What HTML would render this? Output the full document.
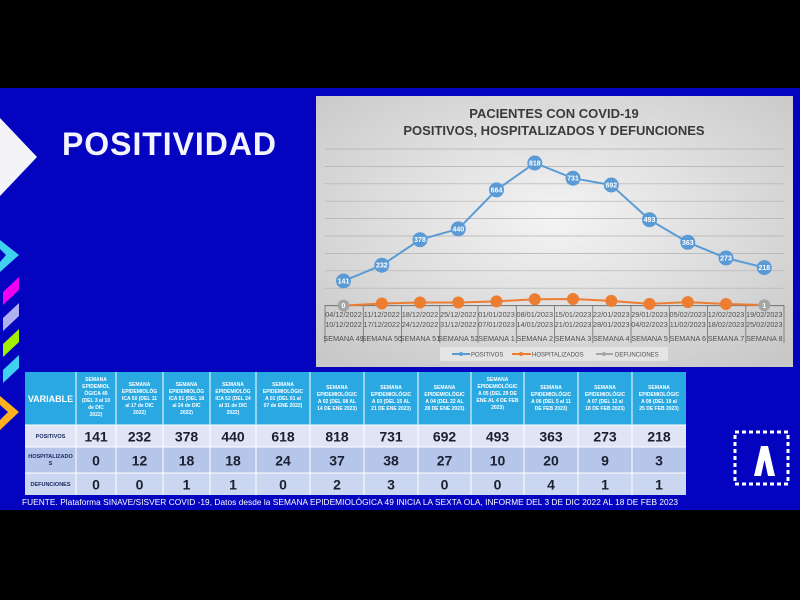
<!DOCTYPE html>
<html><head><meta charset="utf-8"><style>
html,body{margin:0;padding:0;background:#000;}
svg{display:block;font-family:"Liberation Sans",sans-serif;}
</style></head><body>
<svg width="800" height="600" viewBox="0 0 800 600" xmlns="http://www.w3.org/2000/svg">
<defs>
<radialGradient id="bg" cx="50%" cy="45%" r="70%">
<stop offset="0" stop-color="#f4f4f4"/><stop offset="1" stop-color="#c8c8c8"/>
</radialGradient>
</defs>
<rect x="0" y="0" width="800" height="600" fill="#000"/>
<rect x="0" y="88" width="800" height="422" fill="#0404c0"/>
<polygon points="0,118 37,157 0,196" fill="#f4f4f8"/>
<polygon points="0,240 19,255 0,272 0,262 6,255 0,249" fill="#40d0f0"/>
<polygon points="3,292 19,277 19,290 3,305" fill="#f000f0"/>
<polygon points="3,318 19,303 19,316 3,331" fill="#b0b0f0"/>
<polygon points="3,344 19,329 19,342 3,357" fill="#a0f000"/>
<polygon points="3,370 19,355 19,368 3,383" fill="#40d0f0"/>
<polygon points="0,396 19,412 0,430 0,420 8,412 0,405" fill="#ffb020"/>
<text x="62" y="155" font-size="32" font-weight="bold" fill="#f4f4ff" textLength="214">POSITIVIDAD</text>
<rect x="316" y="96" width="477" height="271" fill="url(#bg)"/>
<text x="554" y="118" font-size="13" font-weight="bold" fill="#3a3a3a" text-anchor="middle">PACIENTES CON COVID-19</text>
<text x="554" y="135" font-size="13" font-weight="bold" fill="#3a3a3a" text-anchor="middle">POSITIVOS, HOSPITALIZADOS Y DEFUNCIONES</text>
<g stroke="#b0b0b0" stroke-width="0.7">
<line x1="325" x2="784" y1="149" y2="149"/><line x1="325" x2="784" y1="166.4" y2="166.4"/>
<line x1="325" x2="784" y1="183.8" y2="183.8"/><line x1="325" x2="784" y1="201.2" y2="201.2"/>
<line x1="325" x2="784" y1="218.6" y2="218.6"/><line x1="325" x2="784" y1="236" y2="236"/>
<line x1="325" x2="784" y1="253.4" y2="253.4"/><line x1="325" x2="784" y1="270.8" y2="270.8"/>
<line x1="325" x2="784" y1="288.2" y2="288.2"/>
</g>
<line x1="325" x2="784" y1="305.6" y2="305.6" stroke="#707070" stroke-width="1"/>
<g stroke="#707070" stroke-width="0.8">
<line x1="325" x2="325" y1="305" y2="343"/><line x1="363.3" x2="363.3" y1="305" y2="343"/>
<line x1="401.5" x2="401.5" y1="305" y2="343"/><line x1="439.8" x2="439.8" y1="305" y2="343"/>
<line x1="478" x2="478" y1="305" y2="343"/><line x1="516.3" x2="516.3" y1="305" y2="343"/>
<line x1="554.5" x2="554.5" y1="305" y2="343"/><line x1="592.8" x2="592.8" y1="305" y2="343"/>
<line x1="631" x2="631" y1="305" y2="343"/><line x1="669.3" x2="669.3" y1="305" y2="343"/>
<line x1="707.5" x2="707.5" y1="305" y2="343"/><line x1="745.8" x2="745.8" y1="305" y2="343"/>
<line x1="784" x2="784" y1="305" y2="343"/>
</g>
<g font-size="7.3" fill="#505050" text-anchor="middle">
<text x="343.5" y="317">04/12/2022</text><text x="343.5" y="327">10/12/2022</text><text x="343.5" y="341">SEMANA 49</text>
<text x="381.8" y="317">11/12/2022</text><text x="381.8" y="327">17/12/2022</text><text x="381.8" y="341">SEMANA 50</text>
<text x="420" y="317">18/12/2022</text><text x="420" y="327">24/12/2022</text><text x="420" y="341">SEMANA 51</text>
<text x="458.3" y="317">25/12/2022</text><text x="458.3" y="327">31/12/2022</text><text x="458.3" y="341">SEMANA 52</text>
<text x="496.5" y="317">01/01/2023</text><text x="496.5" y="327">07/01/2023</text><text x="496.5" y="341">SEMANA 1</text>
<text x="534.8" y="317">08/01/2023</text><text x="534.8" y="327">14/01/2023</text><text x="534.8" y="341">SEMANA 2</text>
<text x="573" y="317">15/01/2023</text><text x="573" y="327">21/01/2023</text><text x="573" y="341">SEMANA 3</text>
<text x="611.3" y="317">22/01/2023</text><text x="611.3" y="327">28/01/2023</text><text x="611.3" y="341">SEMANA 4</text>
<text x="649.5" y="317">29/01/2023</text><text x="649.5" y="327">04/02/2023</text><text x="649.5" y="341">SEMANA 5</text>
<text x="687.8" y="317">05/02/2023</text><text x="687.8" y="327">11/02/2023</text><text x="687.8" y="341">SEMANA 6</text>
<text x="726" y="317">12/02/2023</text><text x="726" y="327">18/02/2023</text><text x="726" y="341">SEMANA 7</text>
<text x="764.3" y="317">19/02/2023</text><text x="764.3" y="327">25/02/2023</text><text x="764.3" y="341">SEMANA 8</text>
</g>
<polyline fill="none" stroke="#ed7d31" stroke-width="2" points="343.5,305.6 381.8,303.5 420,302.5 458.3,302.5 496.5,301.4 534.8,299.2 573,299 611.3,300.9 649.5,303.9 687.8,302.1 726,304 764.3,305.1"/>
<g fill="#ed7d31">
<circle cx="381.8" cy="303.5" r="6"/><circle cx="420" cy="302.5" r="6"/><circle cx="458.3" cy="302.5" r="6"/><circle cx="496.5" cy="301.4" r="6"/><circle cx="534.8" cy="299.2" r="6"/><circle cx="573" cy="299" r="6"/><circle cx="611.3" cy="300.9" r="6"/><circle cx="649.5" cy="303.9" r="6"/><circle cx="687.8" cy="302.1" r="6"/><circle cx="726" cy="304" r="6"/>
</g>
<g fill="#a5a5a5">
<circle cx="343.5" cy="305.6" r="6"/><circle cx="764.3" cy="305.3" r="6"/>
</g>
<polyline fill="none" stroke="#5b9bd5" stroke-width="2" points="343.5,281 381.8,265.2 420,239.7 458.3,228.9 496.5,189.9 534.8,163 573,178.2 611.3,185 649.5,219.7 687.8,242.3 726,258 764.3,267.6"/>
<g fill="#5b9bd5">
<circle cx="343.5" cy="281" r="7.5"/><circle cx="381.8" cy="265.2" r="7.5"/><circle cx="420" cy="239.7" r="7.5"/><circle cx="458.3" cy="228.9" r="7.5"/><circle cx="496.5" cy="189.9" r="7.5"/><circle cx="534.8" cy="163" r="7.5"/><circle cx="573" cy="178.2" r="7.5"/><circle cx="611.3" cy="185" r="7.5"/><circle cx="649.5" cy="219.7" r="7.5"/><circle cx="687.8" cy="242.3" r="7.5"/><circle cx="726" cy="258" r="7.5"/><circle cx="764.3" cy="267.6" r="7.5"/>
</g>
<g font-size="7" fill="#fff" text-anchor="middle" font-weight="bold">
<text x="343.5" y="283.5">141</text><text x="381.8" y="267.7">232</text><text x="420" y="242.2">378</text><text x="458.3" y="231.4">440</text><text x="496.5" y="192.4">664</text><text x="534.8" y="165.5">818</text><text x="573" y="180.7">731</text><text x="611.3" y="187.5">692</text><text x="649.5" y="222.2">493</text><text x="687.8" y="244.8">363</text><text x="726" y="260.5">273</text><text x="764.3" y="270.1">218</text>
<text x="343.5" y="308">0</text><text x="764.3" y="308">1</text>
</g>
<rect x="440" y="347" width="228" height="14" fill="#e4e4e4"/>
<g font-size="6" fill="#505050">
<line x1="452" x2="470" y1="354" y2="354" stroke="#5b9bd5" stroke-width="2"/><circle cx="461" cy="354" r="2" fill="#5b9bd5"/><text x="471" y="356.5">POSITIVOS</text>
<line x1="512" x2="531" y1="354" y2="354" stroke="#ed7d31" stroke-width="2"/><circle cx="521" cy="354" r="2" fill="#ed7d31"/><text x="532" y="356.5">HOSPITALIZADOS</text>
<line x1="596" x2="613" y1="354" y2="354" stroke="#a5a5a5" stroke-width="2"/><circle cx="604" cy="354" r="2" fill="#a5a5a5"/><text x="615" y="356.5">DEFUNCIONES</text>
</g>
<rect x="25" y="372" width="661" height="53" fill="#2aa8e2"/>
<rect x="25" y="425" width="661" height="22" fill="#dfe5f5"/>
<rect x="25" y="447" width="661" height="26" fill="#b6c6ea"/>
<rect x="25" y="473" width="661" height="22" fill="#cbd6f0"/>
<g stroke="#ffffff" stroke-width="1">
<line x1="25" x2="686" y1="425" y2="425"/><line x1="25" x2="686" y1="447" y2="447"/><line x1="25" x2="686" y1="473" y2="473"/>
<line x1="76" x2="76" y1="372" y2="495"/><line x1="116" x2="116" y1="372" y2="495"/><line x1="163" x2="163" y1="372" y2="495"/><line x1="210" x2="210" y1="372" y2="495"/><line x1="256" x2="256" y1="372" y2="495"/><line x1="310" x2="310" y1="372" y2="495"/><line x1="364" x2="364" y1="372" y2="495"/><line x1="418" x2="418" y1="372" y2="495"/><line x1="471" x2="471" y1="372" y2="495"/><line x1="524" x2="524" y1="372" y2="495"/><line x1="578" x2="578" y1="372" y2="495"/><line x1="632" x2="632" y1="372" y2="495"/>
</g>
<text x="50.5" y="402" font-size="9" font-weight="bold" fill="#fff" text-anchor="middle">VARIABLE</text>
<g font-size="5" font-weight="bold" fill="#fff" text-anchor="middle">
<text x="96" y="381">SEMANA</text><text x="96" y="388">EPIDEMIOL</text><text x="96" y="395">ÓGICA 49</text><text x="96" y="402">(DEL 3 al 10</text><text x="96" y="409">de DIC</text><text x="96" y="416">2022)</text>
<text x="139.5" y="386">SEMANA</text><text x="139.5" y="393">EPIDEMIOLÓG</text><text x="139.5" y="400">ICA 50 (DEL 11</text><text x="139.5" y="407">al 17 de DIC</text><text x="139.5" y="414">2022)</text>
<text x="186.5" y="386">SEMANA</text><text x="186.5" y="393">EPIDEMIOLÓG</text><text x="186.5" y="400">ICA 51 (DEL 18</text><text x="186.5" y="407">al 24 de DIC</text><text x="186.5" y="414">2022)</text>
<text x="233" y="386">SEMANA</text><text x="233" y="393">EPIDEMIOLÓG</text><text x="233" y="400">ICA 52 (DEL 24</text><text x="233" y="407">al 31 de DIC</text><text x="233" y="414">2022)</text>
<text x="283" y="386">SEMANA</text><text x="283" y="393">EPIDEMIOLÓGIC</text><text x="283" y="400">A 01 (DEL 01 al</text><text x="283" y="407">07 de ENE 2022)</text>
<text x="337" y="389">SEMANA</text><text x="337" y="396">EPIDEMIOLÓGIC</text><text x="337" y="403">A 02 (DEL 08 AL</text><text x="337" y="410">14 DE ENE 2023)</text>
<text x="391" y="389">SEMANA</text><text x="391" y="396">EPIDEMIOLÓGIC</text><text x="391" y="403">A 03 (DEL 15 AL</text><text x="391" y="410">21 DE ENE 2023)</text>
<text x="444.5" y="389">SEMANA</text><text x="444.5" y="396">EPIDEMIOLÓGIC</text><text x="444.5" y="403">A 04 (DEL 22 AL</text><text x="444.5" y="410">28 DE ENE 2023)</text>
<text x="497.5" y="381">SEMANA</text><text x="497.5" y="388">EPIDEMIOLÓGIC</text><text x="497.5" y="395">A 05 (DEL 29 DE</text><text x="497.5" y="402">ENE AL 4 DE FEB</text><text x="497.5" y="409">2023)</text>
<text x="551" y="389">SEMANA</text><text x="551" y="396">EPIDEMIOLÓGIC</text><text x="551" y="403">A 06 (DEL 5 al 11</text><text x="551" y="410">DE FEB 2023)</text>
<text x="605" y="389">SEMANA</text><text x="605" y="396">EPIDEMIOLÓGIC</text><text x="605" y="403">A 07 (DEL 12 al</text><text x="605" y="410">18 DE FEB 2023)</text>
<text x="659" y="389">SEMANA</text><text x="659" y="396">EPIDEMIOLÓGIC</text><text x="659" y="403">A 08 (DEL 19 al</text><text x="659" y="410">25 DE FEB 2023)</text>
</g>
<g font-size="5.5" font-weight="bold" fill="#1a2a60" text-anchor="middle">
<text x="50.5" y="438">POSITIVOS</text><text x="50.5" y="458">HOSPITALIZADO</text><text x="50.5" y="465">S</text><text x="50.5" y="486">DEFUNCIONES</text>
</g>
<g font-size="14" font-weight="bold" fill="#1a2030" text-anchor="middle">
<text x="96" y="441.5">141</text><text x="139.5" y="441.5">232</text><text x="186.5" y="441.5">378</text><text x="233" y="441.5">440</text><text x="283" y="441.5">618</text><text x="337" y="441.5">818</text><text x="391" y="441.5">731</text><text x="444.5" y="441.5">692</text><text x="497.5" y="441.5">493</text><text x="551" y="441.5">363</text><text x="605" y="441.5">273</text><text x="659" y="441.5">218</text>
<text x="96" y="465.5">0</text><text x="139.5" y="465.5">12</text><text x="186.5" y="465.5">18</text><text x="233" y="465.5">18</text><text x="283" y="465.5">24</text><text x="337" y="465.5">37</text><text x="391" y="465.5">38</text><text x="444.5" y="465.5">27</text><text x="497.5" y="465.5">10</text><text x="551" y="465.5">20</text><text x="605" y="465.5">9</text><text x="659" y="465.5">3</text>
<text x="96" y="489.5">0</text><text x="139.5" y="489.5">0</text><text x="186.5" y="489.5">1</text><text x="233" y="489.5">1</text><text x="283" y="489.5">0</text><text x="337" y="489.5">2</text><text x="391" y="489.5">3</text><text x="444.5" y="489.5">0</text><text x="497.5" y="489.5">0</text><text x="551" y="489.5">4</text><text x="605" y="489.5">1</text><text x="659" y="489.5">1</text>
</g>
<text x="22" y="505" font-size="8.3" fill="#fff" textLength="656">FUENTE. Plataforma SINAVE/SISVER COVID -19, Datos desde la SEMANA EPIDEMIOLÓGICA 49 INICIA LA SEXTA OLA, INFORME DEL 3 DE DIC 2022 AL 18 DE FEB 2023</text>
<g stroke="#ffffff" stroke-width="3" fill="none">
<rect x="735" y="432" width="53" height="52" stroke-dasharray="4 3"/>
</g>
<polygon points="754,476 761,446 768,446 775,476 768,476 764.5,460 761,476" fill="#ffffff"/>
</svg>
</body></html>
